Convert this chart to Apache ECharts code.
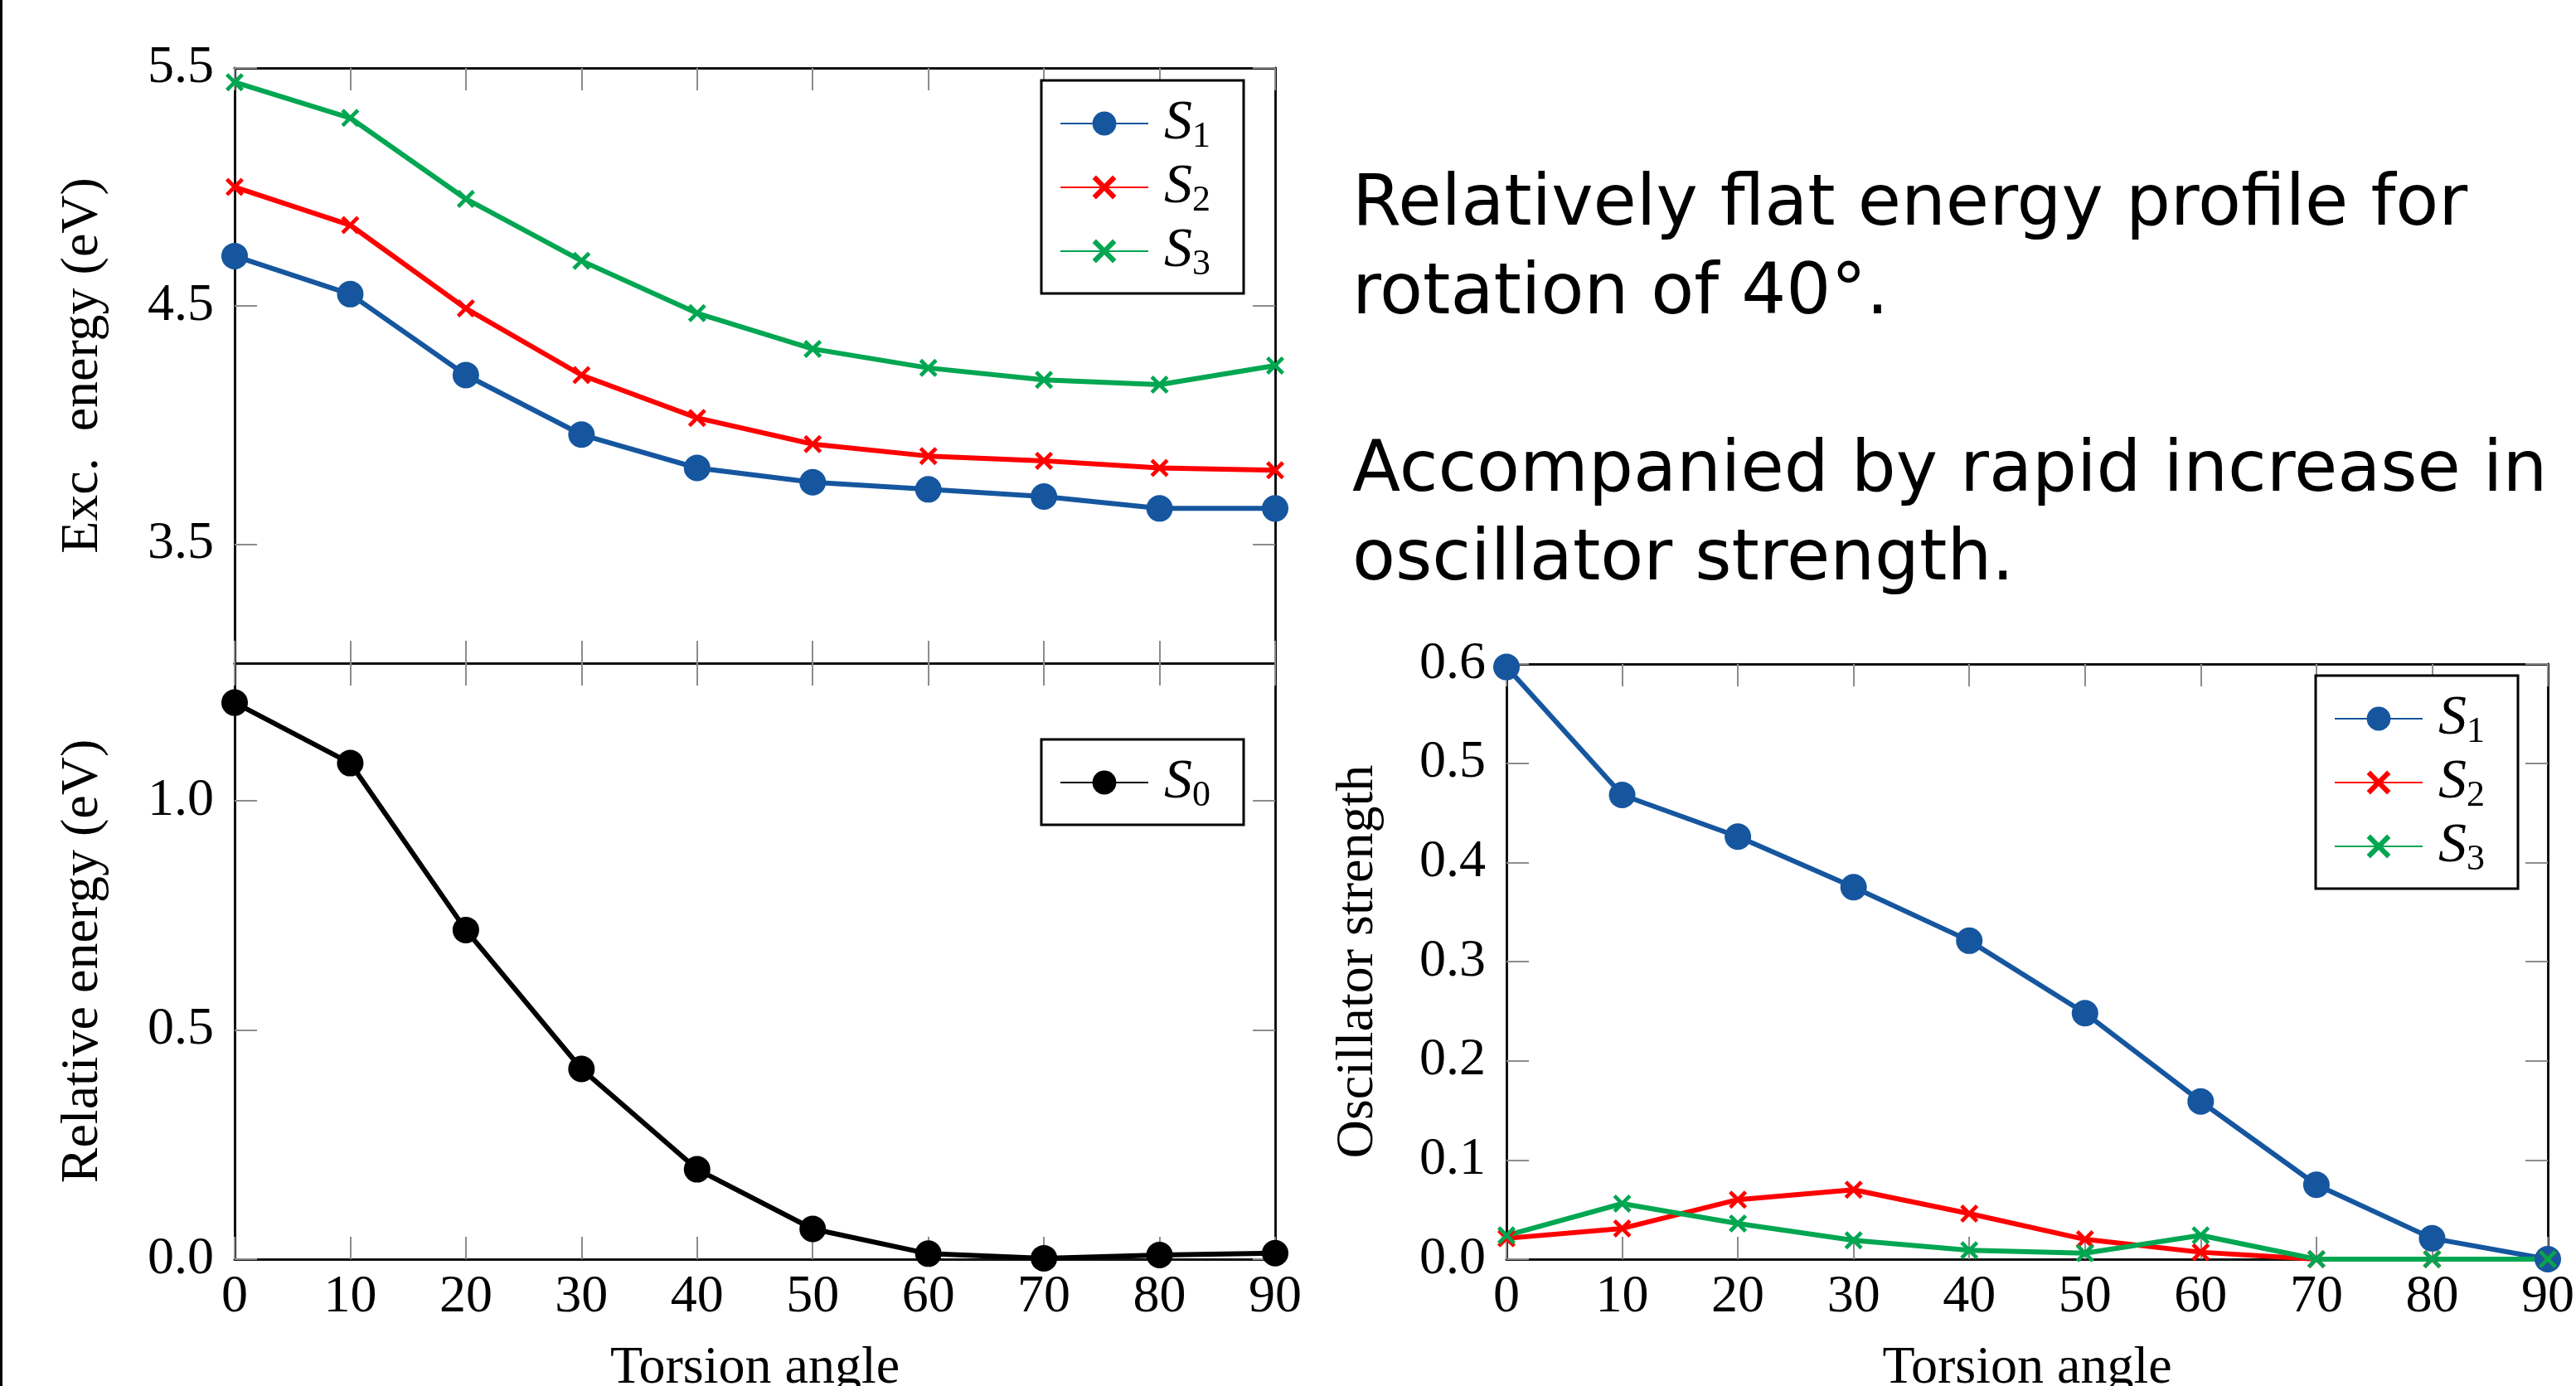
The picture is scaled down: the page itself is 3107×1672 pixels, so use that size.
<!DOCTYPE html>
<html>
<head>
<meta charset="utf-8">
<script src="https://cdn.jsdelivr.net/npm/echarts@6/dist/echarts.min.js"></script>
<style>
html, body { margin: 0; padding: 0; background: #fff; }
#main { width: 3107px; height: 1672px; }
</style>
</head>
<body>
<div id="main"></div>
<script>
// torsion angle scan
var angles = [0, 10, 20, 30, 40, 50, 60, 70, 80, 90];
var excS1 = [4.71, 4.55, 4.21, 3.96, 3.82, 3.76, 3.73, 3.70, 3.65, 3.65];
var excS2 = [5.00, 4.84, 4.49, 4.21, 4.03, 3.92, 3.87, 3.85, 3.82, 3.81];
var excS3 = [5.44, 5.29, 4.95, 4.69, 4.47, 4.32, 4.24, 4.19, 4.17, 4.25];
var relS0 = [1.214, 1.082, 0.718, 0.415, 0.196, 0.066, 0.012, 0.002, 0.009, 0.013];
var oscS1 = [0.597, 0.468, 0.426, 0.375, 0.321, 0.248, 0.159, 0.075, 0.021, 0.0];
var oscS2 = [0.021, 0.031, 0.060, 0.070, 0.046, 0.020, 0.007, 0.0, 0.0, 0.0];
var oscS3 = [0.024, 0.056, 0.036, 0.019, 0.009, 0.006, 0.024, 0.0, 0.0, 0.0];
var excTicks = [3.5, 4.5, 5.5];
var relTicks = [0.0, 0.5, 1.0];
var noteLines = ['Relatively flat energy profile for', 'rotation of 40°.', '',
                 'Accompanied by rapid increase in', 'oscillator strength.'];

var serif = 'Liberation Serif';
var blue = '#15569f', red = '#ff0000', green = '#00a651';
var cross = 'path://M0,3L3,0L10,7L17,0L20,3L13,10L20,17L17,20L10,13L3,20L0,17L7,10Z';

var chart = echarts.init(document.getElementById('main'));

function fmt(v) { return v.toFixed(1); }

function xAx(grid, pos, labels) {
    return {
        type: 'value', gridIndex: grid, position: pos,
        min: 0, max: 90, interval: 10,
        axisLine: { show: true, onZero: false, lineStyle: { color: '#111', width: 3 } },
        axisTick: { show: true, inside: true, length: 27, lineStyle: { color: '#8c8c8c', width: 2 } },
        axisLabel: { show: labels, margin: 14, fontFamily: serif, fontSize: 64, color: '#000' },
        splitLine: { show: false },
        name: labels ? 'Torsion angle' : '',
        nameLocation: 'middle', nameGap: 100,
        nameTextStyle: { fontFamily: serif, fontSize: 64, color: '#000' }
    };
}

function yAx(grid, pos, min, max, interval, ticks, name, gap) {
    var a = {
        type: 'value', gridIndex: grid, position: pos, min: min, max: max,
        axisLine: { show: true, onZero: false, lineStyle: { color: '#111', width: 3 } },
        axisTick: { show: true, inside: true, length: 27, lineStyle: { color: '#8c8c8c', width: 2 } },
        axisLabel: { show: pos === 'left', margin: 25, fontFamily: serif, fontSize: 64,
                     color: '#000', formatter: fmt },
        splitLine: { show: false },
        name: pos === 'left' ? name : '',
        nameLocation: 'middle', nameGap: gap, nameRotate: 90,
        nameTextStyle: { fontFamily: serif, fontSize: 64, color: '#000' }
    };
    if (interval) a.interval = interval;
    if (ticks) {
        a.axisTick.customValues = ticks;
        a.axisLabel.customValues = ticks;
    }
    return a;
}

function line(name, xi, yi, ys, color, sym, size) {
    return {
        name: name, type: 'line', xAxisIndex: xi, yAxisIndex: yi,
        data: angles.map(function (a, i) { return [a, ys[i]]; }),
        symbol: sym, symbolSize: size, showSymbol: true, clip: false,
        lineStyle: { color: color, width: 6 },
        itemStyle: { color: color }
    };
}

function legendBox(names, left, top) {
    return {
        orient: 'vertical', data: names, left: left, top: top,
        itemWidth: 106, itemHeight: 36, itemGap: 1,
        padding: [14, 40, 13, 22],
        borderColor: '#000', borderWidth: 3, backgroundColor: '#fff',
        selectedMode: false,
        formatter: function (n) { return '{s|S}{sub|' + n.slice(1) + '}'; },
        textStyle: {
            rich: {
                s: { fontFamily: serif, fontStyle: 'italic', fontSize: 68, lineHeight: 35,
                     color: '#000', padding: [0, 0, 0, 14] },
                sub: { fontFamily: serif, fontSize: 44, lineHeight: 35, color: '#000',
                       padding: [32, 0, 0, 0] }
            }
        }
    };
}

var gridBase = { outerBoundsMode: 'none', containLabel: false };

option = {
    animation: false,
    backgroundColor: '#fff',
    grid: [
        Object.assign({ left: 283, top: 82, width: 1255, height: 718 }, gridBase),
        Object.assign({ left: 283, top: 800, width: 1255, height: 719 }, gridBase),
        Object.assign({ left: 1817, top: 801, width: 1256, height: 718 }, gridBase)
    ],
    xAxis: [
        xAx(0, 'bottom', false), xAx(0, 'top', false),
        xAx(1, 'bottom', true), xAx(1, 'top', false),
        xAx(2, 'bottom', true), xAx(2, 'top', false)
    ],
    yAxis: [
        yAx(0, 'left', 3.0, 5.5, 0, excTicks, 'Exc.  energy (eV)', 151),
        yAx(0, 'right', 3.0, 5.5, 0, excTicks, '', 0),
        yAx(1, 'left', 0, 1.3, 0, relTicks, 'Relative energy (eV)', 151),
        yAx(1, 'right', 0, 1.3, 0, relTicks, '', 0),
        yAx(2, 'left', 0, 0.6, 0.1, null, 'Oscillator strength', 147),
        yAx(2, 'right', 0, 0.6, 0.1, null, '', 0)
    ],
    legend: [
        legendBox(['S1', 'S2', 'S3'], 1256, 97),
        legendBox(['S0'], 1256, 892),
        legendBox(['S1', 'S2', 'S3'], 2793, 815)
    ],
    series: [
        line('S1', 0, 0, excS1, blue, 'circle', 32),
        line('S2', 0, 0, excS2, red, cross, 22),
        line('S3', 0, 0, excS3, green, cross, 22),
        line('S0', 2, 2, relS0, '#000', 'circle', 32),
        line('S1', 4, 4, oscS1, blue, 'circle', 32),
        line('S2', 4, 4, oscS2, red, cross, 22),
        line('S3', 4, 4, oscS3, green, cross, 22)
    ],
    graphic: [
        { type: 'rect', shape: { x: 0, y: 0, width: 3, height: 1672 }, style: { fill: '#000' } }
    ].concat(noteLines.map(function (t, i) {
        return {
            type: 'text', x: 1631, y: 249 + i * 107,
            style: { text: t, font: '85px "DejaVu Sans"', fill: '#000',
                     align: 'left', verticalAlign: 'middle' }
        };
    }))
};

chart.setOption(option);
</script>
</body>
</html>
